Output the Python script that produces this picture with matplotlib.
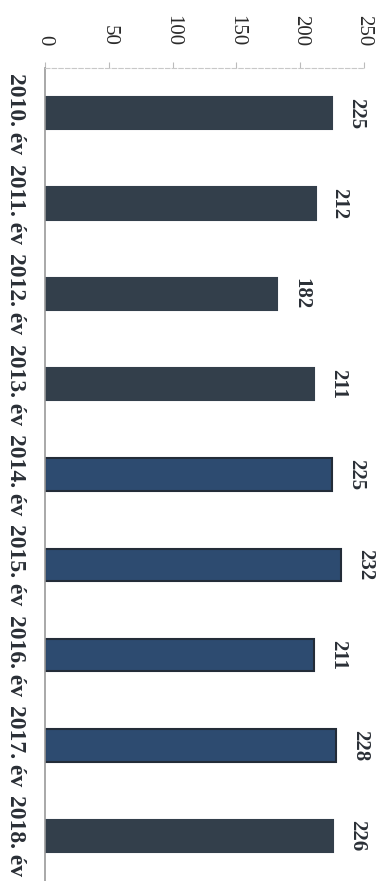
import numpy as np
import matplotlib.pyplot as plt

years = ['2010. év', '2011. év', '2012. év', '2013. év', '2014. év',
         '2015. év', '2016. év', '2017. év', '2018. év']
values = [225, 212, 182, 211, 225, 232, 211, 228, 226]
blue_years = ['2014. év', '2015. év', '2016. év', '2017. év']
ticks = [0, 50, 100, 150, 200, 250]

plt.rcParams['font.family'] = ['Liberation Serif', 'DejaVu Serif']

fig = plt.figure(figsize=(3.81, 8.81), dpi=100)
ax = fig.add_axes([45 / 381, 0.0, 319 / 381, 813 / 881])

pos = np.arange(len(years))
for p, y, v in zip(pos, years, values):
    if y in blue_years:
        face, edge = '#2d4b70', '#232c38'
    else:
        face, edge = '#333f4b', '#333f4b'
    ax.barh(p, v, height=0.36, color=face, edgecolor=edge, linewidth=1.5)
    ax.annotate(str(v), (v, p), xytext=(10, 0), textcoords='offset points',
                rotation=-90, ha='left', va='center', fontsize=15,
                fontweight='bold', color='#2a2f36', annotation_clip=False)

ax.set_xlim(0, 250)
ax.set_ylim(len(years) - 0.5, -0.5)
ax.set_xticks(ticks)
ax.set_xticklabels([str(t) for t in ticks], rotation=-90, fontsize=15,
                   color='#2a2a2a')
ax.xaxis.tick_top()
ax.tick_params(axis='x', length=4, color='#bbbbbb', pad=12)

ax.set_yticks(pos)
ax.set_yticklabels(years, rotation=-90, fontsize=17, fontweight='bold',
                   color='#2a2f36', va='center')
ax.tick_params(axis='y', length=0, pad=14)

for s in ['right', 'bottom']:
    ax.spines[s].set_visible(False)
ax.spines['top'].set_color('#c8c8c8')
ax.spines['top'].set_linestyle((0, (4, 2)))
ax.spines['left'].set_color('#9a9a9a')
ax.spines['left'].set_linewidth(1.2)

fig.savefig('out.png', dpi=100)
